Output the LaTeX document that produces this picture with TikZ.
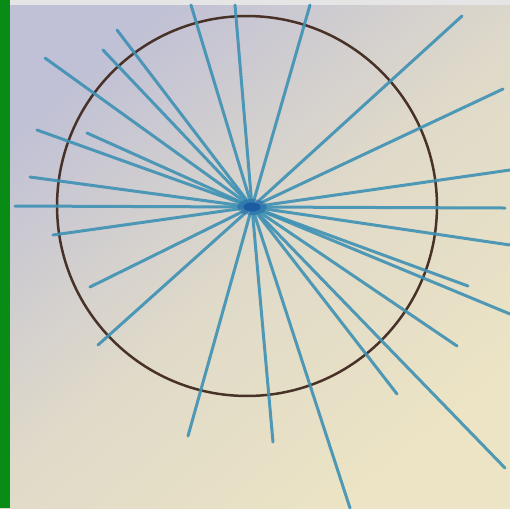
\documentclass[tikz,border=0pt]{standalone}
\usepackage{xcolor}
\usepackage{tikz}
\usetikzlibrary{calc}

\definecolor{bgtop}{RGB}{192,192,214}
\definecolor{bgbot}{RGB}{236,228,196}
\definecolor{barcol}{RGB}{8,140,22}
\definecolor{raycol}{RGB}{62,145,180}
\definecolor{rimcol}{RGB}{72,50,40}
\definecolor{hubcol}{RGB}{20,80,160}

\begin{document}
\begin{tikzpicture}[
  x=0.02cm, y=-0.02cm,
  ray/.style={draw=raycol,line width=0.06cm,line cap=round,opacity=0.9},
  rim/.style={draw=rimcol,line width=0.05cm},
]
\useasboundingbox (0,0) rectangle (510,508);
% background, green edge and top strip
\shade[top color=bgtop,bottom color=bgbot,middle color=bgbot!70!bgtop,shading angle=40] (0,0) rectangle (510,508);
\fill[barcol] (0,0) rectangle (10,508);
\fill[gray!20] (10,0) rectangle (510,5);

\coordinate (hub) at (252,207);

% the circle
\draw[rim] (247,206) circle[radius=3.8cm];

% rays out of the hub
\foreach \px/\py [count=\i] in {191/5, 235/5, 310/5, 462/16, 503/89,
    510/170, 505/208, 510/245, 468/286, 510/314, 457/346, 397/394,
    505/468, 350/508, 273/442, 188/436, 98/345, 90/287, 53/235,
    15/206, 30/177, 37/130, 87/133, 45/58, 103/50, 117/30} {
  \coordinate (r\i) at (\px,\py);
  \draw[ray] (hub) -- (r\i);
}

% dark spot where the rays meet
\fill[hubcol,opacity=0.35] (hub) ellipse[x radius=0.3cm,y radius=0.16cm];
\fill[hubcol,opacity=0.7] (hub) ellipse[x radius=0.17cm,y radius=0.09cm];
\end{tikzpicture}
\end{document}
